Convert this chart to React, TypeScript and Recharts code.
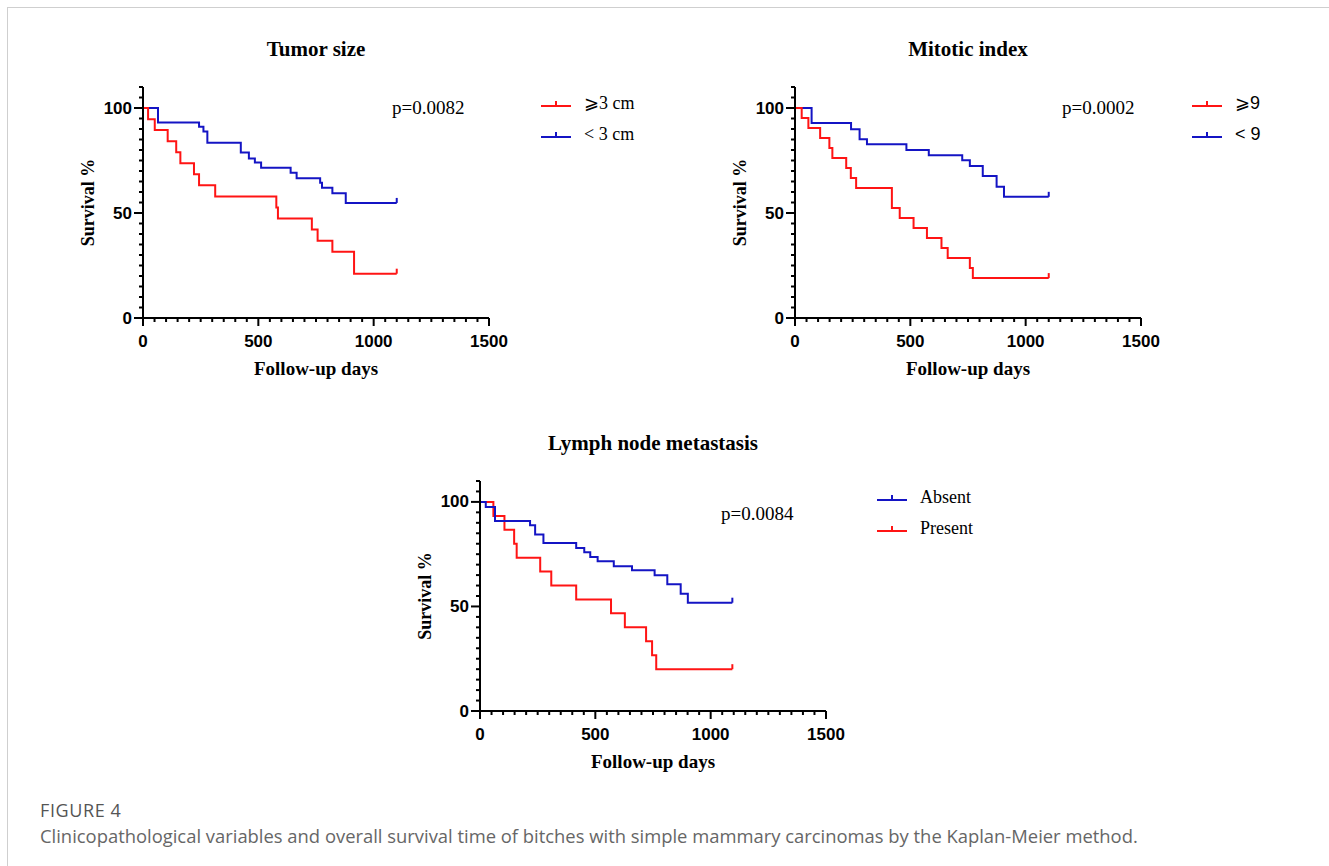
import React from 'react';
import { LineChart, Line, XAxis, YAxis } from 'recharts';

// Kaplan-Meier curves (time in days, survival in %)
const tumorBigTimes = [0, 22, 51, 107, 144, 162, 221, 243, 313, 578, 585, 732, 757, 821, 915, 1100];
const tumorBigSurv = [100, 94.7, 89.5, 84.2, 78.9, 73.7, 68.4, 63.2, 57.9, 52.6, 47.4, 42.1, 36.8, 31.6, 21.1, 21.1];
const tumorSmallTimes = [0, 65, 243, 262, 279, 424, 459, 485, 512, 640, 666, 768, 776, 821, 879, 1100];
const tumorSmallSurv = [100, 93.1, 91.1, 88.8, 83.5, 78.8, 76.0, 74.0, 71.6, 69.2, 66.6, 64.4, 62.0, 59.4, 54.8, 54.8];

const mitHighTimes = [0, 29, 58, 109, 149, 162, 222, 242, 265, 420, 454, 514, 572, 635, 662, 758, 771, 1100];
const mitHighSurv = [100, 95.2, 90.5, 85.7, 81.0, 76.2, 71.4, 66.7, 61.9, 52.4, 47.6, 42.9, 38.1, 33.3, 28.6, 23.8, 19.0, 19.0];
const mitLowTimes = [0, 72, 243, 280, 312, 483, 580, 725, 758, 814, 874, 906, 1100];
const mitLowSurv = [100, 92.8, 89.9, 85.1, 82.7, 80.0, 77.5, 75.1, 72.4, 67.6, 62.5, 57.7, 57.7];

const lnAbsentTimes = [0, 25, 65, 217, 239, 275, 417, 452, 478, 510, 580, 659, 757, 812, 870, 901, 1094];
const lnAbsentSurv = [100, 97.6, 90.9, 88.8, 84.4, 80.4, 78.0, 75.9, 73.7, 71.6, 69.2, 67.3, 64.9, 60.6, 56.1, 51.8, 51.8];
const lnPresentTimes = [0, 58, 106, 148, 159, 261, 309, 417, 568, 628, 720, 746, 764, 1094];
const lnPresentSurv = [100, 93.3, 86.7, 80, 73.3, 66.7, 60, 53.3, 46.7, 40, 33.3, 26.7, 20, 20];

const xMajor = [0, 500, 1000, 1500];
const yMajor = [0, 50, 100];
const xTicks = Array.from({ length: 31 }, (_, i) => i * 50);
const yTicks = Array.from({ length: 23 }, (_, i) => i * 5);

const RED = '#ff1414';
const BLUE = '#1414c4';
const SERIF = '"Liberation Serif", "Times New Roman", serif';
const SANS = '"Liberation Sans", Arial, sans-serif';

const toPts = (t: number[], s: number[]) => t.map((v, i) => ({ t: v, s: s[i] }));

const XTick = (props: any) => {
  const { x, y, payload } = props;
  const major = xMajor.includes(payload.value);
  return (
    <g>
      <line x1={x} x2={x} y1={y} y2={y + (major ? 8 : 4)} stroke="#000" strokeWidth={2} />
      {major && (
        <text x={x} y={y + 23} textAnchor="middle" dominantBaseline="central"
          fontFamily={SANS} fontWeight="bold" fontSize={17} fill="#000">{payload.value}</text>
      )}
    </g>
  );
};

const YTick = (props: any) => {
  const { x, y, payload } = props;
  const major = yMajor.includes(payload.value);
  return (
    <g>
      <line x1={x - (major ? 9 : 4)} x2={x} y1={y} y2={y} stroke="#000" strokeWidth={2} />
      {major && (
        <text x={x - 11} y={y} textAnchor="end" dominantBaseline="central"
          fontFamily={SANS} fontWeight="bold" fontSize={17} fill="#000">{payload.value}</text>
      )}
    </g>
  );
};

// censoring tick at the end of each curve
const endTick = (n: number) => (props: any) => {
  const { cx, cy, index, stroke } = props;
  if (index !== n - 1) return <g key={index} />;
  return <line key={index} x1={cx} x2={cx} y1={cy} y2={cy - 5} stroke={stroke} strokeWidth={2} />;
};

interface Series { name: string; color: string; times: number[]; surv: number[] }

interface KMProps {
  plotLeft: number;
  plotTop: number;
  plotH: number;
  title: string;
  pText: string;
  pLeft: number;
  pTop: number;
  legendLeft: number;
  legendFont: string;
  series: Series[]; // drawn in order, last on top
  legendOrder: number[];
}

const KMPanel: React.FC<KMProps> = ({ plotLeft, plotTop, plotH, title, pText, pLeft, pTop, legendLeft, legendFont, series, legendOrder }) => {
  const plotW = 346;
  return (
    <>
      <div style={{ position: 'absolute', left: plotLeft - 100, top: plotTop - 10 }}>
        <LineChart width={100 + plotW + 40} height={10 + plotH + 70}
          margin={{ top: 10, right: 40, left: 40, bottom: 10 }}>
          <XAxis type="number" dataKey="t" domain={[0, 1500]} ticks={xTicks} interval={0}
            tick={<XTick />} tickLine={false} tickSize={0} tickMargin={0} height={60}
            axisLine={{ stroke: '#000', strokeWidth: 2 }} allowDuplicatedCategory={false}
            label={{ value: 'Follow-up days', position: 'insideBottom', offset: 3,
              style: { fontFamily: SERIF, fontWeight: 'bold', fontSize: 19, fill: '#000' } }} />
          <YAxis type="number" domain={[0, 110]} ticks={yTicks} interval={0}
            tick={<YTick />} tickLine={false} tickSize={0} tickMargin={0} width={60}
            axisLine={{ stroke: '#000', strokeWidth: 2 }}
            label={{ value: 'Survival %', angle: -90, position: 'insideLeft', offset: 5,
              style: { textAnchor: 'middle', fontFamily: SERIF, fontWeight: 'bold', fontSize: 18, fill: '#000' } }} />
          {series.map((s) => (
            <Line key={s.name} data={toPts(s.times, s.surv)} dataKey="s" type="stepAfter"
              stroke={s.color} strokeWidth={2} dot={endTick(s.times.length)} activeDot={false}
              isAnimationActive={false} />
          ))}
        </LineChart>
      </div>
      <div style={{ position: 'absolute', left: plotLeft, width: plotW, top: plotTop - 52, textAlign: 'center',
        fontFamily: SERIF, fontWeight: 'bold', fontSize: 21, lineHeight: '28px' }}>{title}</div>
      <div style={{ position: 'absolute', left: pLeft, top: pTop - 12, fontFamily: SERIF, fontSize: 19,
        lineHeight: '24px' }}>{pText}</div>
      {legendOrder.map((k, i) => {
        const s = series[k];
        return (
          <div key={s.name} style={{ position: 'absolute', left: legendLeft, top: plotTop + 4 + i * 31,
            display: 'flex', alignItems: 'center', height: 24 }}>
            <svg width={30} height={12} style={{ marginRight: 13 }}>
              <line x1={0} x2={30} y1={9} y2={9} stroke={s.color} strokeWidth={2} />
              <line x1={15} x2={15} y1={9} y2={4} stroke={s.color} strokeWidth={2} />
            </svg>
            <span style={{ fontFamily: legendFont, fontSize: 18 }}>{s.name}</span>
          </div>
        );
      })}
    </>
  );
};

export default function App() {
  return (
    <div style={{ position: 'absolute', left: 0, top: 0, width: 1329, height: 866, background: '#fff', overflow: 'hidden' }}>
      <div style={{ position: 'absolute', left: 7, top: 7, width: 1400, height: 900,
        borderTop: '1.5px solid #cfcfcf', borderLeft: '1.5px solid #cfcfcf' }} />
      <KMPanel plotLeft={143} plotTop={87} plotH={231} title="Tumor size" pText="p=0.0082" pLeft={392} pTop={108}
        legendLeft={541} legendFont={SERIF}
        series={[
          { name: '< 3 cm', color: BLUE, times: tumorSmallTimes, surv: tumorSmallSurv },
          { name: '⩾3 cm', color: RED, times: tumorBigTimes, surv: tumorBigSurv },
        ]}
        legendOrder={[1, 0]} />
      <KMPanel plotLeft={795} plotTop={87} plotH={231} title="Mitotic index" pText="p=0.0002" pLeft={1062} pTop={108}
        legendLeft={1192} legendFont={SANS}
        series={[
          { name: '< 9', color: BLUE, times: mitLowTimes, surv: mitLowSurv },
          { name: '⩾9', color: RED, times: mitHighTimes, surv: mitHighSurv },
        ]}
        legendOrder={[1, 0]} />
      <KMPanel plotLeft={480} plotTop={481} plotH={230} title="Lymph node metastasis" pText="p=0.0084" pLeft={721} pTop={514}
        legendLeft={877} legendFont={SERIF}
        series={[
          { name: 'Present', color: RED, times: lnPresentTimes, surv: lnPresentSurv },
          { name: 'Absent', color: BLUE, times: lnAbsentTimes, surv: lnAbsentSurv },
        ]}
        legendOrder={[1, 0]} />
      <div style={{ position: 'absolute', left: 40, top: 799, fontFamily: '"Open Sans", sans-serif', fontSize: 18,
        color: '#555', lineHeight: '22px', letterSpacing: 0.6 }}>FIGURE 4</div>
      <div style={{ position: 'absolute', left: 40, top: 825, fontFamily: '"Open Sans", sans-serif', fontSize: 18.4,
        color: '#666', lineHeight: '22px', whiteSpace: 'nowrap' }}>
        Clinicopathological variables and overall survival time of bitches with simple mammary carcinomas by the Kaplan-Meier method.
      </div>
    </div>
  );
}
